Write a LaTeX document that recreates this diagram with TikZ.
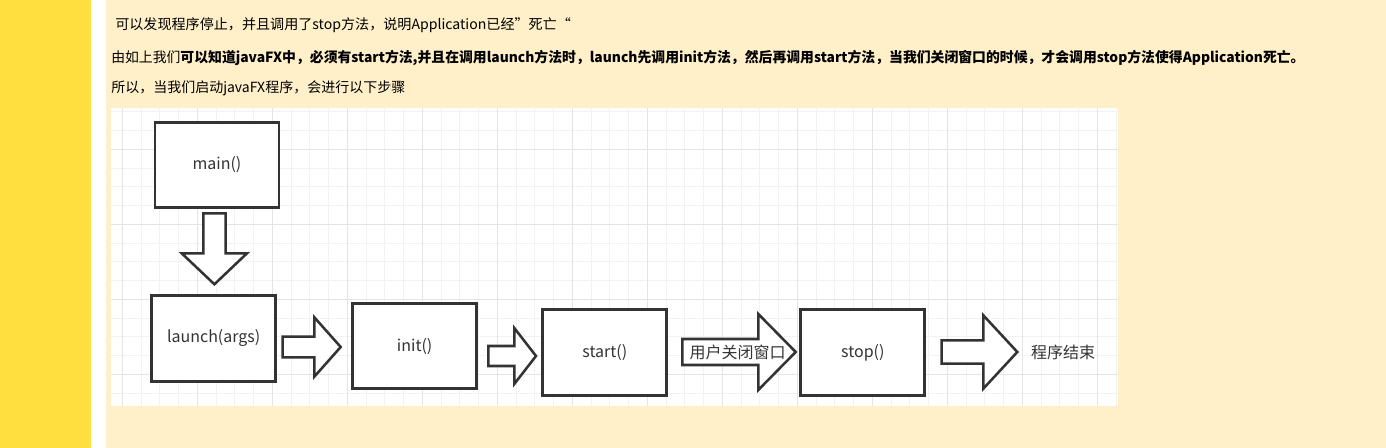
\documentclass[tikz,border=0pt]{standalone}
\usepackage{fontspec}
\setmainfont{Noto Sans CJK SC}
\definecolor{barY}{HTML}{FFDF3F}
\definecolor{creamY}{HTML}{FFF0C9}
\definecolor{gridMinor}{HTML}{F2F2F2}
\definecolor{gridMajor}{HTML}{E4E4E4}
\definecolor{ink}{HTML}{333333}
\tikzset{
  headtxt/.style={anchor=base west, inner sep=0pt, font=\fontsize{10.5pt}{12pt}\selectfont, text=black},
  flowbox/.style={draw=ink, line width=2.2pt, fill=white, inner sep=0pt, text=ink,
    font=\fontsize{12pt}{14pt}\selectfont},
  blockarr/.style={draw=ink, line width=1.9pt, fill=white, line join=miter},
  flowlbl/.style={inner sep=0pt, text=ink, font=\fontsize{12pt}{14pt}\selectfont},
  minorline/.style={draw=gridMinor, line width=0.75pt},
  majorline/.style={draw=gridMajor, line width=0.75pt}
}
% horizontal block arrow: start x, centre y, shaft half, head base x, head half, tip x
\newcommand\hblockarrow[6]{%
  \draw[blockarr] (#1,#2-#3) -- (#4,#2-#3) -- (#4,#2-#5) -- (#6,#2) -- (#4,#2+#5)
    -- (#4,#2+#3) -- (#1,#2+#3) -- cycle;}
\begin{document}
\begin{tikzpicture}[x=0.75pt,y=-0.75pt]
\useasboundingbox (0,0) rectangle (1386,448);
\fill[barY] (0,0) rectangle (91,448);
\fill[white] (91,0) rectangle (106,448);
\fill[creamY] (106,0) rectangle (1386,448);
% header text
\node[headtxt, xscale=1.006] (l1) at (115,29.5) {可以发现程序停止，并且调用了stop方法，说明Application已经”死亡“};
\node[headtxt, xscale=0.989] (l2) at (111,62.5) {由如上我们\textbf{可以知道javaFX中，必须有start方法,并且在调用launch方法时，launch先调用init方法，然后再调用start方法，当我们关闭窗口的时候，才会调用stop方法使得Application死亡。}};
\node[headtxt] (l3) at (111,93) {所以，当我们启动javaFX程序，会进行以下步骤};
% canvas
\fill[white] (111,108) rectangle (1118,406);
\begin{scope}
\clip (111,108) rectangle (1118,406);
\foreach \k in {0,...,53} {
  \pgfmathsetmacro\xx{122.3+18.75*\k}
  \draw[minorline] (\xx,108) -- (\xx,406);
}
\foreach \k in {0,...,15} {
  \pgfmathsetmacro\yy{111.8+18.75*\k}
  \draw[minorline] (111,\yy) -- (1118,\yy);
}
\foreach \k in {0,...,13} {
  \pgfmathsetmacro\xx{122.3+75*\k}
  \draw[majorline] (\xx,108) -- (\xx,406);
}
\foreach \yy in {149.3,224.3,299.3,374.3} {
  \draw[majorline] (111,\yy) -- (1118,\yy);
}
\end{scope}
% boxes
\node[flowbox, minimum width={124*0.75pt}, minimum height={85*0.75pt}] (main) at (217,164.8) {main()};
\node[flowbox, minimum width={124*0.75pt}, minimum height={86*0.75pt}] (launch) at (213.7,338.2) {launch(args)};
\node[flowbox, minimum width={124*0.75pt}, minimum height={85*0.75pt}] (init) at (414.7,346.3) {init()};
\node[flowbox, minimum width={124*0.75pt}, minimum height={86*0.75pt}] (start) at (604.8,352.5) {start()};
\node[flowbox, minimum width={124*0.75pt}, minimum height={86*0.75pt}] (stop) at (862.8,352.5) {stop()};
% down arrow main -> launch
\draw[blockarr] (203.3,213.3) -- (225.7,213.3) -- (225.7,253.3) -- (247,253.3) -- (214.4,284.3)
  -- (181.7,253.3) -- (203.3,253.3) -- cycle;
% horizontal arrows
\hblockarrow{282.7}{347}{10.3}{314.3}{29.7}{340.7}
\hblockarrow{488.3}{356}{10}{514.3}{28}{536}
\hblockarrow{682.3}{352}{13}{758.3}{38}{795.7}
\hblockarrow{941.7}{352}{11.7}{983.3}{36.7}{1017.3}
\node[flowlbl] (closelbl) at (737.5,352.5) {用户关闭窗口};
\node[flowlbl] (endlbl) at (1063,352.5) {程序结束};
\end{tikzpicture}
\end{document}
